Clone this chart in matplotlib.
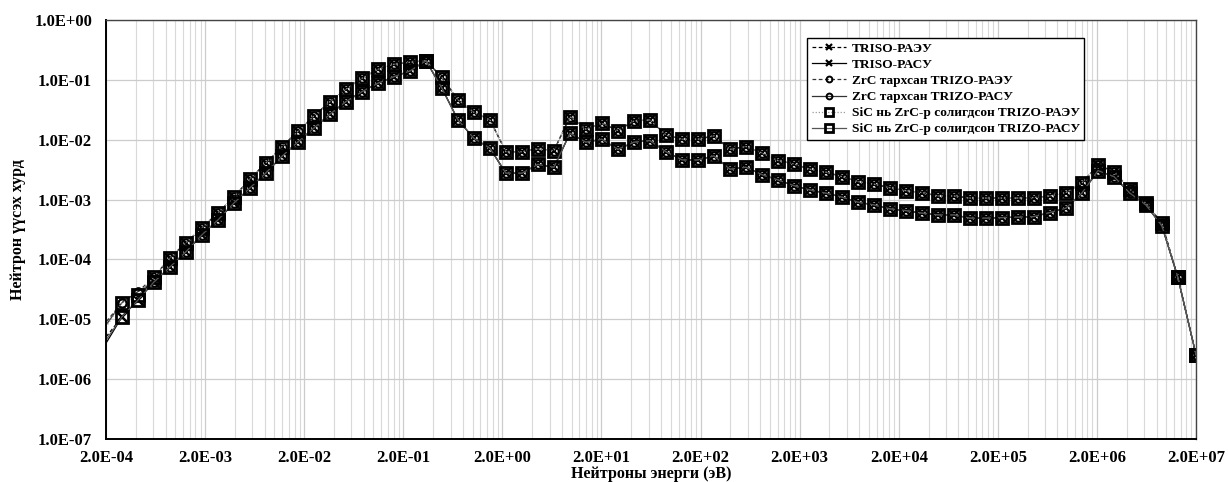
import matplotlib
matplotlib.use("Agg")
import matplotlib.pyplot as plt
from matplotlib.ticker import FixedLocator, FuncFormatter, NullFormatter

plt.rcParams['font.family'] = ['Liberation Serif', 'DejaVu Serif']
plt.rcParams['font.weight'] = 'bold'

# нейтроны энерги, эВ
energy = [1.4e-4, 2.90e-4, 4.21e-4, 6.10e-4, 8.85e-4, 1.28e-3, 1.86e-3, 2.70e-3,
          3.92e-3, 5.68e-3, 8.23e-3, 1.19e-2, 1.73e-2, 2.51e-2, 3.64e-2, 5.28e-2,
          7.66e-2, 0.111, 0.161, 0.234, 0.339, 0.491, 0.713, 1.03, 1.50, 2.17,
          3.15, 4.57, 6.63, 9.62, 13.9, 20.2, 29.3, 42.6, 61.7, 89.5, 130, 188,
          273, 396, 574, 833, 1210, 1750, 2540, 3690, 5340, 7750, 11200, 16300,
          23600, 34300, 49700, 72100, 105000, 152000, 220000, 319000, 463000,
          671000, 973000, 1.41e6, 2.05e6, 2.97e6, 4.30e6, 6.24e6, 9.05e6,
          1.31e7, 2.0e7]

# РАЭУ хувилбарууд (3-р цэгээс эхлэн)
raeu = [5.1e-5, 1.06e-4, 1.89e-4, 3.37e-4, 6.0e-4, 1.11e-3, 2.22e-3, 4.1e-3,
        7.6e-3, 1.38e-2, 2.5e-2, 4.33e-2, 6.97e-2, 0.106, 0.150, 0.182, 0.197, 0.209,
        0.110, 4.62e-2, 2.88e-2, 2.14e-2, 6.3e-3, 6.3e-3, 7.0e-3, 6.57e-3, 2.43e-2, 1.50e-2,
        1.88e-2, 1.42e-2, 2.06e-2, 2.14e-2, 1.20e-2, 1.02e-2, 1.02e-2, 1.16e-2, 6.9e-3, 7.7e-3,
        6.0e-3, 4.48e-3, 3.94e-3, 3.22e-3, 2.87e-3, 2.42e-3, 2.0e-3, 1.81e-3, 1.58e-3, 1.41e-3,
        1.31e-3, 1.15e-3, 1.15e-3, 1.06e-3, 1.06e-3, 1.06e-3, 1.06e-3, 1.08e-3, 1.15e-3, 1.31e-3,
        1.88e-3, 3.79e-3, 2.93e-3, 1.49e-3, 8.7e-4, 4.04e-4, 5.07e-5, 2.55e-6]

# РАСУ хувилбарууд (3-р цэгээс эхлэн)
rasu = [4.2e-5, 7.5e-5, 1.34e-4, 2.58e-4, 4.58e-4, 8.8e-4, 1.57e-3, 2.79e-3,
        5.26e-3, 9.2e-3, 1.57e-2, 2.67e-2, 4.33e-2, 6.35e-2, 8.78e-2, 0.113, 0.141, 0.209,
        7.24e-2, 2.14e-2, 1.06e-2, 7.2e-3, 2.76e-3, 2.76e-3, 3.87e-3, 3.47e-3, 1.28e-2, 9.1e-3,
        1.02e-2, 6.9e-3, 9.1e-3, 9.7e-3, 6.3e-3, 4.6e-3, 4.6e-3, 5.37e-3, 3.22e-3, 3.47e-3,
        2.61e-3, 2.13e-3, 1.71e-3, 1.45e-3, 1.28e-3, 1.10e-3, 9.06e-4, 8.16e-4, 7.0e-4, 6.55e-4,
        5.93e-4, 5.55e-4, 5.55e-4, 4.89e-4, 4.89e-4, 5.0e-4, 5.08e-4, 5.2e-4, 6.07e-4, 7.18e-4,
        1.28e-3, 3.05e-3, 2.42e-3, 1.28e-3, 8.16e-4, 3.64e-4, 5.07e-5, 2.55e-6]

# бага энергийн эхний гурван цэг тус бүрдээ
head_triso_raeu = [2.4e-6, 1.1e-5, 2.1e-5]
head_triso_rasu = [1.5e-6, 1.1e-5, 2.1e-5]
head_zrc_raeu = [4.4e-6, 1.9e-5, 2.9e-5]
head_zrc_rasu = [3.5e-6, 1.9e-5, 2.9e-5]
head_sic_raeu = [3.0e-6, 1.9e-5, 2.5e-5]
head_sic_rasu = [1.9e-6, 1.1e-5, 2.1e-5]

labels = ['TRISO-РАЭУ', 'TRISO-РАСУ',
          'ZrC тархсан TRIZO-РАЭУ', 'ZrC тархсан TRIZO-РАСУ',
          'SiC нь ZrC-р солигдсон TRIZO-РАЭУ', 'SiC нь ZrC-р солигдсон TRIZO-РАСУ']

series = [
    (head_triso_raeu + raeu, dict(ls=(0, (3, 2)), color='black', lw=0.9, marker='x', ms=7, mew=1.6)),
    (head_triso_rasu + rasu, dict(ls='-', color='black', lw=0.9, marker='x', ms=7, mew=1.6)),
    (head_zrc_raeu + raeu, dict(ls=(0, (3, 2)), color='#333333', lw=0.9, marker='o', ms=6,
                                mfc='none', mec='black', mew=1.4)),
    (head_zrc_rasu + rasu, dict(ls='-', color='#333333', lw=0.9, marker='o', ms=6,
                                mfc='none', mec='black', mew=1.4)),
    (head_sic_raeu + raeu, dict(ls=(0, (1, 1.5)), color='#9a9a9a', lw=0.9, marker='s', ms=8.5,
                                mfc='none', mec='black', mew=2.0)),
    (head_sic_rasu + rasu, dict(ls='-', color='#555555', lw=0.9, marker='s', ms=8.5,
                                mfc='none', mec='black', mew=2.0)),
]

fig = plt.figure(figsize=(12.28, 4.82), dpi=100)
ax = fig.add_axes([106 / 1228, 43 / 482, 1090 / 1228, 419 / 482])

for (vals, style), lab in zip(series, labels):
    ax.plot(energy, vals, label=lab, **style)

ax.set_xscale('log')
ax.set_yscale('log')
ax.set_xlim(2e-4, 2e7)
ax.set_ylim(1e-7, 1.0)

xmajor = [2e-4 * 10 ** n for n in range(12)]
xminor = [2e-4 * k * 10 ** n for n in range(11) for k in range(2, 10)]
ax.xaxis.set_major_locator(FixedLocator(xmajor))
ax.xaxis.set_minor_locator(FixedLocator(xminor))
ax.xaxis.set_minor_formatter(NullFormatter())
ax.yaxis.set_major_locator(FixedLocator([10.0 ** n for n in range(-7, 1)]))
ax.yaxis.set_minor_locator(FixedLocator([]))

fmt = FuncFormatter(lambda v, p: f"{v:.1E}")
ax.xaxis.set_major_formatter(fmt)
ax.yaxis.set_major_formatter(fmt)

ax.grid(True, which='major', color='#cccccc', lw=0.9)
ax.grid(True, which='minor', axis='x', color='#d9d9d9', lw=0.8)
ax.set_axisbelow(True)

ax.tick_params(which='both', length=0)
ax.tick_params(axis='x', pad=8, labelsize=12)
ax.tick_params(axis='y', pad=10, labelsize=12)
for t in ax.get_xticklabels() + ax.get_yticklabels():
    t.set_fontweight('bold')

for side in ['left', 'bottom']:
    ax.spines[side].set_linewidth(1.4)
    ax.spines[side].set_color('black')
for side in ['top', 'right']:
    ax.spines[side].set_linewidth(1.0)
    ax.spines[side].set_color('#444444')

ax.set_xlabel('Нейтроны энерги (эВ)', fontsize=11.5, fontweight='bold', labelpad=0)
ax.set_ylabel('Нейтрон үүсэх хурд', fontsize=11.5, fontweight='bold', labelpad=6)

leg = ax.legend(loc='upper left', bbox_to_anchor=(0.643, 0.957), borderaxespad=0,
                fontsize=9.6, frameon=True, fancybox=False, edgecolor='black',
                framealpha=1, handlelength=2.6, labelspacing=0.28, borderpad=0.35,
                handletextpad=0.4, markerscale=0.7)
leg.get_frame().set_linewidth(1.0)
for t in leg.get_texts():
    t.set_fontweight('bold')

fig.savefig('out.png', dpi=100)
